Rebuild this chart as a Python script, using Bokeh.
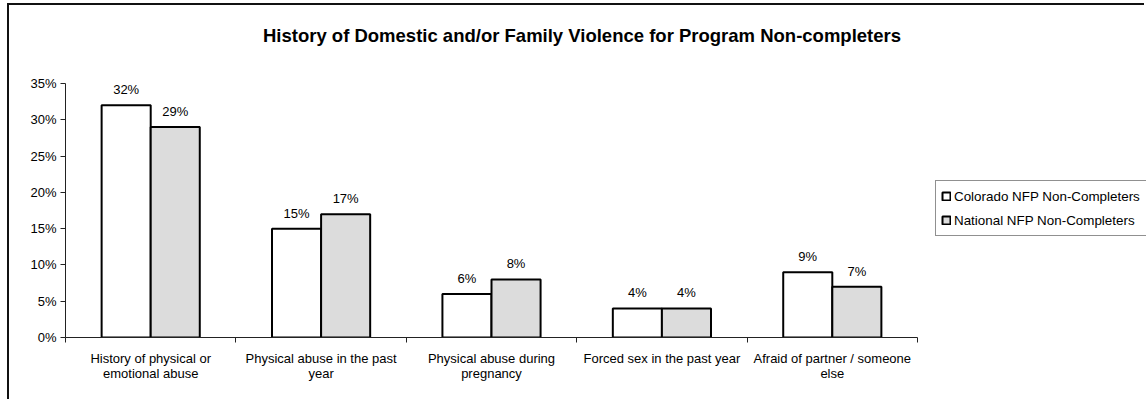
from bokeh.plotting import figure
from bokeh.models import (ColumnDataSource, Range1d, NumeralTickFormatter, Legend, LegendItem,
                          FixedTicker, Label)
from bokeh.transform import dodge
from bokeh.core.properties import value
from bokeh.embed import file_html
from bokeh.resources import INLINE

title_text = "History of Domestic and/or Family Violence for Program Non-completers"
categories = ["History of physical or\nemotional abuse",
              "Physical abuse in the past\nyear",
              "Physical abuse during\npregnancy",
              "Forced sex in the past year",
              "Afraid of partner / someone\nelse"]
colorado = [0.32, 0.15, 0.06, 0.04, 0.09]
national = [0.29, 0.17, 0.08, 0.04, 0.07]
series_names = ["Colorado NFP Non-Completers", "National NFP Non-Completers"]
y_ticks = [0, 0.05, 0.10, 0.15, 0.20, 0.25, 0.30, 0.35]

FONT = "Liberation Sans"
n = len(categories)
centers = [i + 0.5 for i in range(n)]
bounds = [float(i) for i in range(n + 1)]

# layout (pixels)
W, H = 1137, 396
BL, BB = 56, 64
AXIS_PX_W = 852      # width of the category axis
AXIS_PX_H = 254      # height of the value axis
frame_w = W - BL
frame_h = H - BB
x_end = n * frame_w / AXIS_PX_W
y_end = y_ticks[-1] * frame_h / AXIS_PX_H

src = ColumnDataSource(dict(
    x=centers,
    co=colorado,
    na=national,
    co_lab=[f"{round(v*100)}%" for v in colorado],
    na_lab=[f"{round(v*100)}%" for v in national],
))

p = figure(x_range=Range1d(0, x_end), y_range=Range1d(0, y_end),
           width=W, height=H, output_backend="svg", toolbar_location=None,
           min_border_left=BL, min_border_right=0, min_border_top=0, min_border_bottom=BB)
p.title.visible = False
p.styles = {"margin-left": "9px", "margin-top": "5px", "vertical-align": "top",
            "box-shadow": "-2px -2px 0 0 #111"}

w = 0.288
r1 = p.vbar(x=dodge("x", -w/2), top="co", width=w, source=src,
            fill_color="#FFFFFF", line_color="#000000", line_width=2)
r2 = p.vbar(x=dodge("x", w/2), top="na", width=w, source=src,
            fill_color="#DCDCDC", line_color="#000000", line_width=2)

p.text(x=dodge("x", -w/2), y="co", text="co_lab", source=src,
       text_align="center", text_baseline="bottom", y_offset=-8,
       text_font=value(FONT), text_font_size="13px", text_color="#000000")
p.text(x=dodge("x", w/2), y="na", text="na_lab", source=src,
       text_align="center", text_baseline="bottom", y_offset=-8,
       text_font=value(FONT), text_font_size="13px", text_color="#000000")

p.add_layout(Label(x=516.5, y=frame_h - 30, x_units="screen", y_units="screen",
                   text=title_text, text_align="center", text_baseline="alphabetic",
                   text_font=FONT, text_font_size="18.5px", text_font_style="bold",
                   text_color="#000000"))

p.xgrid.visible = False
p.ygrid.visible = False
p.outline_line_color = None

p.yaxis.ticker = FixedTicker(ticks=y_ticks)
p.yaxis.formatter = NumeralTickFormatter(format="0%")
p.yaxis.minor_tick_line_color = None
p.yaxis.bounds = (0, y_ticks[-1])

p.xaxis.ticker = FixedTicker(ticks=centers, minor_ticks=bounds)
p.xaxis.major_label_overrides = {c: lab for c, lab in zip(centers, categories)}
p.xaxis.bounds = (0, n)
p.xaxis.major_tick_line_color = None
p.xaxis.minor_tick_line_color = "#222222"
p.xaxis.minor_tick_out = 5
p.xaxis.minor_tick_in = 0
p.xaxis.major_tick_out = 0
p.xaxis.major_tick_in = 0
p.xaxis.major_label_standoff = 8
p.xaxis.major_label_text_line_height = 1.0

for ax in (p.xaxis[0], p.yaxis[0]):
    ax.axis_line_color = "#222222"
    ax.major_label_text_font = FONT
    ax.major_label_text_font_size = "13px"
    ax.major_label_text_color = "#000000"
p.yaxis.major_tick_line_color = "#222222"
p.yaxis.major_tick_out = 5
p.yaxis.major_tick_in = 0
p.yaxis.major_label_standoff = 4

legend = Legend(items=[LegendItem(label=series_names[0], renderers=[r1]),
                       LegendItem(label=series_names[1], renderers=[r2])],
                location=(870, 101), label_text_font=FONT, label_text_font_size="13.4px",
                label_text_color="#000000", border_line_color="#222222", border_line_width=1,
                glyph_width=10, glyph_height=10, label_standoff=3, spacing=4,
                padding=5, margin=0, label_height=20, label_width=205,
                background_fill_alpha=1)
p.add_layout(legend, "center")

open("out.html", "w").write(file_html(p, INLINE))
